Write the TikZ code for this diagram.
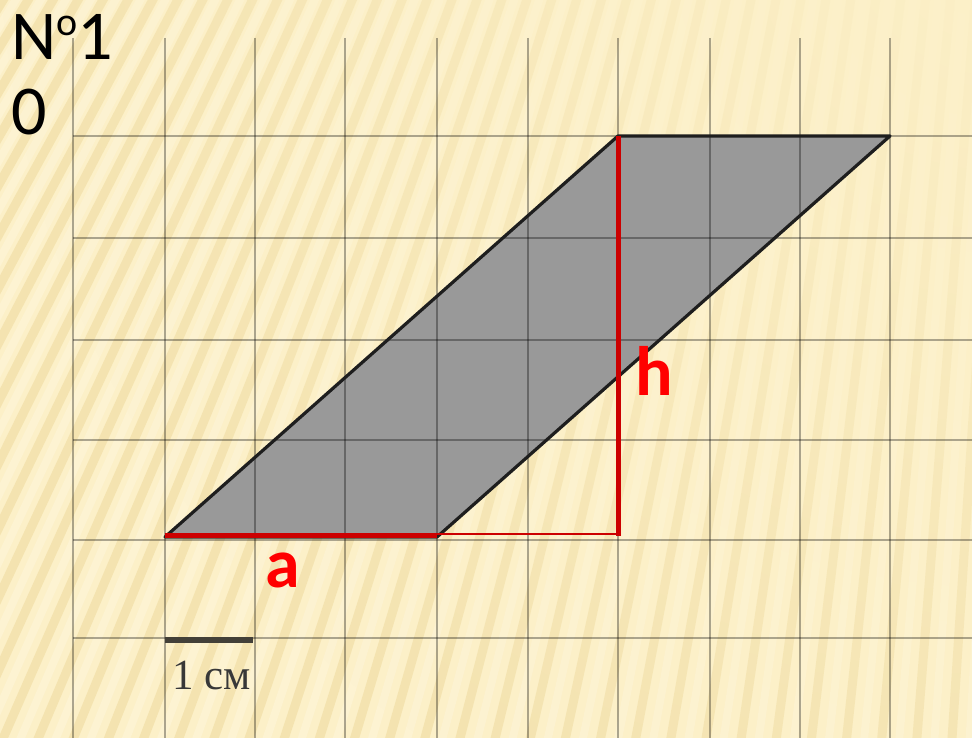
\documentclass[tikz,border=0pt]{standalone}
\usepackage{fontspec}
\usetikzlibrary{fadings}
\setmainfont{Carlito}
\newfontfamily\serifcm{Liberation Serif}
\definecolor{bgbase}{HTML}{FCF0C8}
\definecolor{stripedark}{HTML}{EBD594}
\definecolor{stripelight}{HTML}{FEF6DC}
\definecolor{figgray}{HTML}{999999}
\definecolor{figedge}{HTML}{1E1E1E}
\definecolor{linered}{HTML}{CC0000}
\definecolor{labelred}{HTML}{FF0000}
\tikzfading[name=cornerfade, inner color=transparent!0, outer color=transparent!100]
\begin{document}
\begin{tikzpicture}[x=1pt,y=-1pt,
  gridline/.style={line width=2.2pt, draw=black, draw opacity=0.32},
  darkstripe/.style={line width=9pt, draw=stripedark, draw opacity=0.45},
  lightstripe/.style={line width=8pt, draw=stripelight, draw opacity=0.5},
  figure/.style={draw=figedge, line width=3.2pt, line join=round},
  redthick/.style={draw=linered, line width=5pt},
  redthin/.style={draw=linered, line width=1.8pt},
  redlabel/.style={text=labelred, font=\fontsize{70}{70}\selectfont\bfseries, inner sep=0pt},
  titletext/.style={font=\fontsize{70}{75}\selectfont, inner sep=0pt},
  scalebar/.style={draw=black!85!yellow, line width=6pt},
  scaletext/.style={font=\serifcm\fontsize{43}{43}\selectfont, text=black!78, inner sep=0pt}]
\useasboundingbox (0,0) rectangle (972,738);
% background
\fill[bgbase] (0,0) rectangle (972,738);
\begin{scope}
\clip (0,0) rectangle (972,738);
\coordinate (F) at (1118,-1801);
\foreach \x in {-600,-564,...,1250} {
  \coordinate (E) at (\x,800);
  \draw[darkstripe] (F) -- (E);
}
\foreach \x in {-582,-546,...,1268} {
  \coordinate (E) at (\x,800);
  \draw[lightstripe] (F) -- (E);
}
\fill[bgbase, path fading=cornerfade, fit fading=true] (1000,-80) circle (1000);
\end{scope}
% parallelogram
\coordinate (A) at (165,537);
\coordinate (B) at (437,537);
\coordinate (C) at (890,136);
\coordinate (D) at (618,136);
\fill[figgray] (A) -- (B) -- (C) -- (D) -- cycle;
% grid
\foreach \gx in {73,165,255,345,437,528,618,710,800,890} {
  \coordinate (gt) at (\gx,38);
  \coordinate (gb) at (\gx,738);
  \draw[gridline] (gt) -- (gb);
}
\foreach \gy in {136,238,340,440,540,638} {
  \coordinate (gl) at (73,\gy);
  \coordinate (gr) at (972,\gy);
  \draw[gridline] (gl) -- (gr);
}
\draw[figure] (A) -- (B) -- (C) -- (D) -- cycle;
% red lines
\coordinate (B1) at (437,534);
\coordinate (H1) at (618,534);
\coordinate (A1) at (165,535);
\coordinate (B2) at (437,535);
\coordinate (H2) at (618,536);
\draw[redthin] (B1) -- (H1);
\draw[redthick] (A1) -- (B2);
\draw[redthick] (D) -- (H2);
% labels
\node[redlabel, anchor=base] (la) at (283,587) {a};
\node[redlabel, anchor=base] (lh) at (654,395) {h};
% title
\node[titletext, anchor=base west] (t1) at (11,60) {N\raisebox{24pt}{\fontsize{40}{40}\selectfont o}1};
\node[titletext, anchor=base west] (t2) at (11,135) {0};
% scale bar
\coordinate (S1) at (165,640);
\coordinate (S2) at (253,640);
\draw[scalebar] (S1) -- (S2);
\node[scaletext, anchor=base west] (sc) at (172,689) {1 см};
\end{tikzpicture}
\end{document}
